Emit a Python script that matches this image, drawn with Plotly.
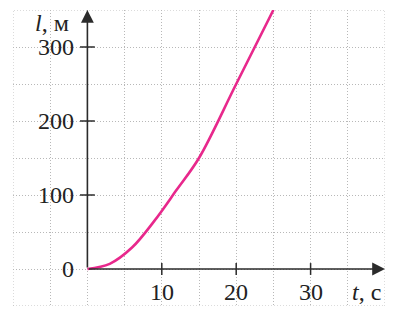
import plotly.graph_objects as go

# data
t_vals = [0, 3, 6, 9, 12, 15, 20, 25]
l_vals = [0, 7, 29, 65, 107, 150, 250, 350]

x_tick_vals = [10, 20, 30]
x_tick_text = ["10", "20", "30"]
y_tick_vals = [0, 100, 200, 300]
y_tick_text = ["0", "100", "200", "300"]

FONT = "Liberation Serif, DejaVu Serif, serif"
FS = 24
AX = "#2b2b2b"
GRID = "#b8b8b8"
fig = go.Figure()

fig.add_trace(go.Scatter(x=t_vals, y=l_vals, mode="lines",
                         line=dict(color="#e8288c", width=2.6, shape="spline", smoothing=1.0),
                         hoverinfo="skip", showlegend=False))

shapes = []
# dotted frame
shapes.append(dict(type="rect", xref="x", yref="y", x0=-10, x1=40, y0=-50, y1=350,
                   line=dict(color=GRID, width=1, dash="1px,2px"), layer="below"))
# ticks
for v in y_tick_vals[1:]:
    shapes.append(dict(type="line", xref="x", yref="y", x0=-1, x1=1, y0=v, y1=v,
                       line=dict(color=AX, width=1.5)))
for v in x_tick_vals:
    shapes.append(dict(type="line", xref="x", yref="y", x0=v, x1=v, y0=-8, y1=8,
                       line=dict(color=AX, width=1.5)))

annotations = []
# axes with arrows
annotations.append(dict(x=40, y=0, ax=0, ay=0, xref="x", yref="y", axref="x", ayref="y",
                        text="", showarrow=True, arrowhead=2, arrowsize=1.6, arrowwidth=1.6,
                        arrowcolor=AX))
annotations.append(dict(x=0, y=350, ax=0, ay=0, xref="x", yref="y", axref="x", ayref="y",
                        text="", showarrow=True, arrowhead=2, arrowsize=1.6, arrowwidth=1.6,
                        arrowcolor=AX))
for v, s in zip(y_tick_vals, y_tick_text):
    annotations.append(dict(x=-1.5, y=v, xref="x", yref="y", text=s, showarrow=False,
                            xanchor="right", yanchor="middle",
                            font=dict(family=FONT, size=FS, color="#222")))
for v, s in zip(x_tick_vals, x_tick_text):
    annotations.append(dict(x=v, y=-31, xref="x", yref="y", text=s, showarrow=False,
                            xanchor="center", yanchor="middle",
                            font=dict(family=FONT, size=FS, color="#222")))
annotations.append(dict(x=-4.7, y=333, xref="x", yref="y", text="<i>l</i>, м", showarrow=False,
                        xanchor="center", yanchor="middle",
                        font=dict(family=FONT, size=FS, color="#222")))
annotations.append(dict(x=37.5, y=-31, xref="x", yref="y", text="<i>t</i>, с", showarrow=False,
                        xanchor="center", yanchor="middle",
                        font=dict(family=FONT, size=FS, color="#222")))

fig.update_layout(
    width=400, height=316,
    margin=dict(l=13, r=15, t=10, b=10),
    paper_bgcolor="white", plot_bgcolor="white",
    shapes=shapes, annotations=annotations,
    xaxis=dict(range=[-10, 40], dtick=5, tick0=0, showticklabels=False, ticks="",
               showgrid=True, gridcolor=GRID, gridwidth=1, griddash="1px,2px",
               zeroline=False, showline=False, fixedrange=True),
    yaxis=dict(range=[-50, 350], dtick=50, tick0=0, showticklabels=False, ticks="",
               showgrid=True, gridcolor=GRID, gridwidth=1, griddash="1px,2px",
               zeroline=False, showline=False, fixedrange=True),
)

fig.write_html("out.html")
